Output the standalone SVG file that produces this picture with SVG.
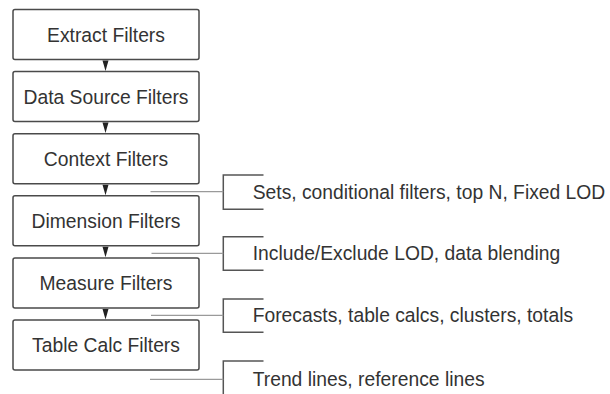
<svg xmlns="http://www.w3.org/2000/svg" width="610" height="394" viewBox="0 0 610 394">
  <style>
    .box { fill: #ffffff; stroke: #4a4a4a; stroke-width: 1.5; }
    .lbl { font-family: "Liberation Sans", Arial, sans-serif; font-size: 19.3px; fill: #333333; }
    .ctr { text-anchor: middle; }
    .conn { stroke: #9a9a9a; stroke-width: 1.2; fill: none; }
    .brk { stroke: #555555; stroke-width: 1.5; fill: none; }
    .arr { fill: #222222; }
  </style>
  <rect width="610" height="394" fill="#ffffff"/>

  <g id="extract-filters">
    <rect class="box" x="13" y="9.5" width="186" height="50" rx="2"/>
    <text class="lbl ctr" x="106" y="41.7">Extract Filters</text>
  </g>
  <g id="data-source-filters">
    <rect class="box" x="13" y="71.6" width="186" height="50" rx="2"/>
    <text class="lbl ctr" x="106" y="103.8">Data Source Filters</text>
  </g>
  <g id="context-filters">
    <rect class="box" x="13" y="133.7" width="186" height="50" rx="2"/>
    <text class="lbl ctr" x="106" y="165.9">Context Filters</text>
  </g>
  <g id="dimension-filters">
    <rect class="box" x="13" y="195.8" width="186" height="50" rx="2"/>
    <text class="lbl ctr" x="106" y="228">Dimension Filters</text>
  </g>
  <g id="measure-filters">
    <rect class="box" x="13" y="257.9" width="186" height="50" rx="2"/>
    <text class="lbl ctr" x="106" y="290.1">Measure Filters</text>
  </g>
  <g id="table-calc-filters">
    <rect class="box" x="13" y="320" width="186" height="50" rx="2"/>
    <text class="lbl ctr" x="106" y="352.2">Table Calc Filters</text>
  </g>

  <g id="note-sets">
    <path class="brk" d="M263.5 175 H223.3 V209.3 H263.5"/>
    <text class="lbl" x="252.7" y="199.3">Sets, conditional filters, top N, Fixed LOD</text>
  </g>
  <g id="note-include">
    <path class="brk" d="M263.5 236.7 H223.3 V270.3 H263.5"/>
    <text class="lbl" x="252.7" y="260.3">Include/Exclude LOD, data blending</text>
  </g>
  <g id="note-forecasts">
    <path class="brk" d="M263.5 299 H223.3 V332.3 H263.5"/>
    <text class="lbl" x="252.7" y="322">Forecasts, table calcs, clusters, totals</text>
  </g>
  <g id="note-trend">
    <path class="brk" d="M263.5 361 H223.3 V396"/>
    <text class="lbl" x="252.7" y="386.3">Trend lines, reference lines</text>
  </g>

  <g id="connectors">
    <polygon class="arr" points="102.5,60.5 108.5,60.5 105.5,71"/>
    <polygon class="arr" points="102.5,122.6 108.5,122.6 105.5,133.1"/>
    <polygon class="arr" points="102.5,184.7 108.5,184.7 105.5,195.2"/>
    <polygon class="arr" points="102.5,246.8 108.5,246.8 105.5,257.3"/>
    <polygon class="arr" points="102.5,308.9 108.5,308.9 105.5,319.4"/>
    <line class="conn" x1="150.5" y1="191.7" x2="223.3" y2="191.7"/>
    <line class="conn" x1="151.5" y1="253.3" x2="223.3" y2="253.3"/>
    <line class="conn" x1="151" y1="315.3" x2="223.3" y2="315.3"/>
    <line class="conn" x1="150" y1="379.3" x2="223.3" y2="379.3"/>
  </g>
</svg>
